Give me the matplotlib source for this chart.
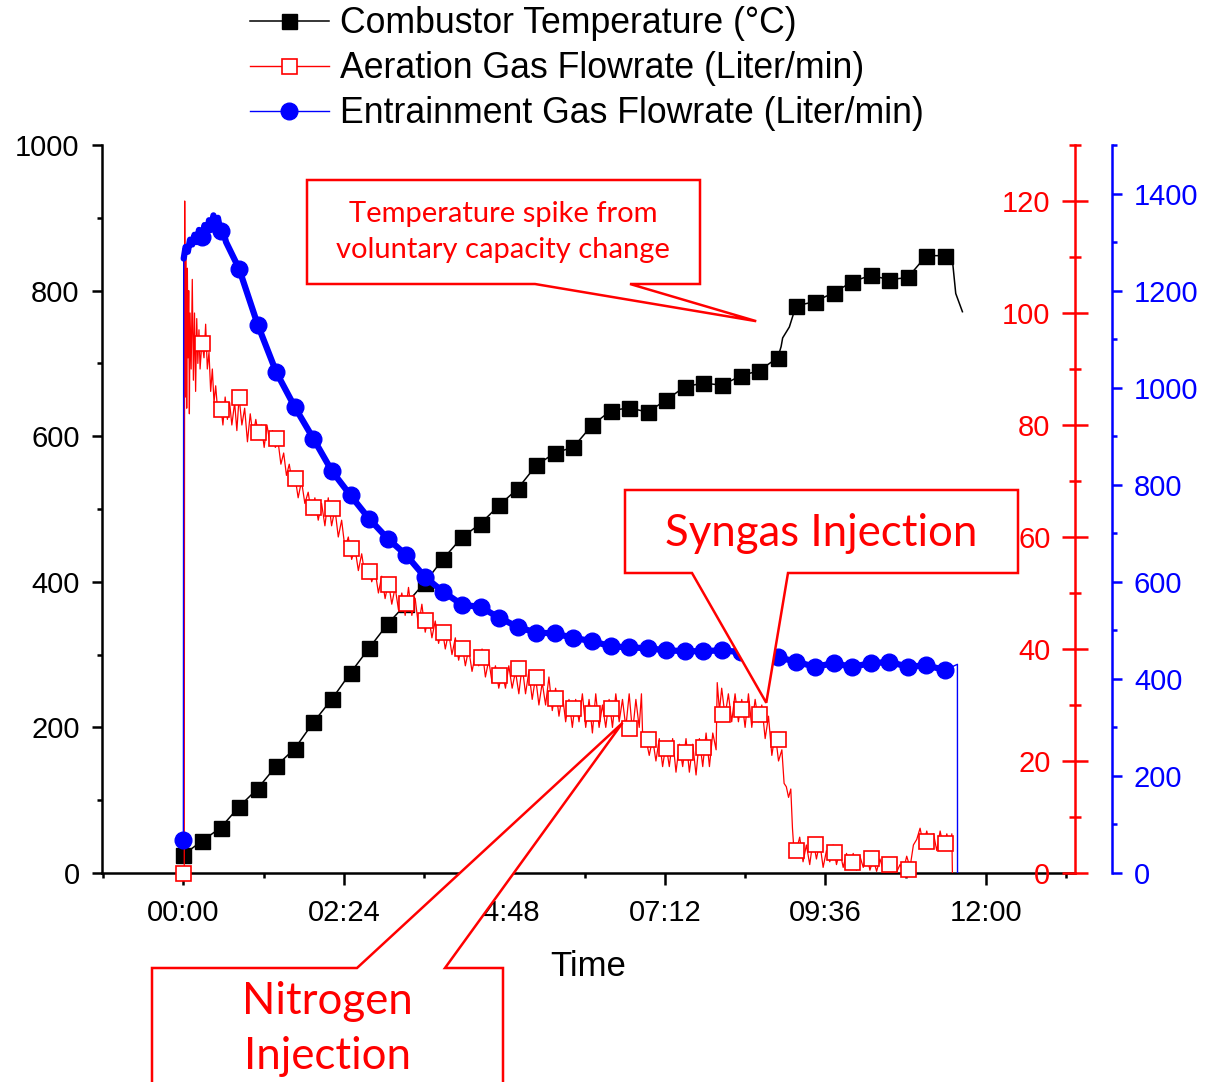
import numpy as np
import matplotlib
matplotlib.use("Agg")
import matplotlib.pyplot as plt
from matplotlib.lines import Line2D
from matplotlib.patches import Polygon
from matplotlib.ticker import MultipleLocator, FuncFormatter
from matplotlib.transforms import IdentityTransform

plt.rcParams['font.family'] = ['Liberation Sans', 'DejaVu Sans']

W, H = 1208, 1082

# markers are drawn once every 1000 s of logging (x axis in minutes)
mark_t = np.arange(42) * 1000 / 60

# combustor temperature (deg C) at the marker times
temp_v = [25, 44, 62, 91, 116, 147, 171, 207, 239, 275,
          309, 342, 370, 399, 432, 461, 480, 505, 528, 560,
          577, 585, 615, 635, 639, 633, 650, 668, 673, 670,
          683, 690, 708, 779, 785, 797, 812, 821, 815, 818,
          848, 848]
# extra temperature readings: the jump near 09:00 and the final cool-down
temp_extra_t = [536.3, 537.7, 543.7, 547.6, 690.0, 693.0, 699.0]
temp_extra_v = [723, 735, 750, 769, 842, 796, 771]

# aeration gas flowrate (L/min) at the marker times
aer_mark_v = [0, 94.6, 82.8, 85.0, 78.8, 77.7, 70.5, 65.4, 65.2, 58.0,
              54.0, 51.6, 48.2, 45.2, 43.0, 40.2, 38.6, 35.4, 36.6, 35.0,
              31.2, 29.5, 28.6, 29.5, 25.9, 23.9, 22.3, 21.6, 22.5, 28.4,
              29.3, 28.4, 23.9, 4.1, 5.2, 3.8, 2.0, 2.6, 1.6, 0.8,
              5.7, 5.3]
# aeration gas flowrate, raw logger trace
aer_t = [0, 0.8, 1.2, 1.8, 2.4, 3.0, 3.6, 4.2, 4.8, 5.4,
         6, 7, 8, 9, 10, 11, 12, 13, 14, 15,
         16.7, 18.5, 20, 21.5, 23, 24.5, 26, 27.5, 29, 31,
         33.3, 35.5, 37.5, 39.5, 41.5, 43.5, 46, 48, 50, 52.5,
         55, 57.5, 60, 62.5, 65, 67.5, 70, 72.5, 75, 77.5,
         80, 82.5, 85, 87.5, 90, 92.5, 95, 97.5, 100, 103,
         106, 109, 112, 115, 118, 121, 124, 127, 130, 133,
         136, 139, 142, 145, 148, 151, 154, 157, 160, 163,
         166, 169, 172, 175, 178, 181, 184, 187, 190, 193,
         196, 199, 202, 205, 208, 211, 214, 217, 220, 223,
         226, 229, 232, 235, 238, 241, 244, 247, 250, 253,
         256, 259, 262, 265, 268, 271, 274, 277, 280, 283,
         286, 289, 292, 295, 298, 301, 304, 307, 310, 313,
         316, 319, 322, 325, 328, 331, 334, 337, 340, 343,
         346, 349, 352, 355, 358, 361, 364, 367, 370, 373,
         376, 379, 382, 385, 388, 391, 394, 397, 400, 403,
         406, 409, 411, 412, 415, 418, 421, 424, 427, 430,
         433, 436, 439, 442, 445, 448, 451, 454, 457, 460,
         463, 466, 469, 472, 475, 478, 479, 481, 483, 486,
         489, 492, 495, 498, 501, 504, 507, 510, 513, 516,
         519, 522, 525, 528, 531, 534, 537, 539, 541, 543,
         545, 546.5, 547.5, 550, 553, 556, 559, 562, 565, 568,
         571, 574, 577, 580, 583, 586, 589, 592, 595, 598,
         601, 604, 607, 610, 613, 616, 619, 622, 625, 628,
         631, 634, 637, 640, 643, 646, 649, 652, 655, 658,
         661, 664, 667, 670, 673, 676, 679, 682, 685, 688,
         689.5, 690]
aer_v = [0, 0, 120, 85, 112, 83, 108, 92, 104, 82,
         100, 90, 106, 88, 100, 86, 99, 91, 97, 90,
         95, 92, 98, 90, 93, 86, 90, 84, 87, 82,
         84, 80, 85, 81, 84, 80, 84, 79, 85, 80,
         83, 77, 82, 78, 81, 78, 80, 76, 80, 77,
         79, 76, 77, 73, 75, 71, 73, 70, 71, 67,
         70, 66, 68, 64, 67, 63, 66, 62, 67, 62,
         65, 60, 63, 58, 60, 56, 58, 54, 57, 53,
         55, 52, 54, 50, 53, 49, 52, 48, 51, 47,
         50, 46, 51, 46, 49, 44, 48, 43, 46, 42,
         45, 41, 44, 40, 43, 39, 42, 38, 41, 37,
         40, 36, 39, 37, 40, 35, 38, 34, 37, 33,
         36, 33, 37, 33, 36, 32, 37, 32, 36, 31,
         35, 30, 34, 30, 35, 29, 33, 28, 32, 27,
         31, 26, 31, 27, 32, 26, 31, 25, 32, 26,
         30, 26, 31, 26, 32, 27, 31, 26, 32, 25,
         31, 26, 32, 25, 24, 21, 24, 20, 24, 19,
         23, 19, 24, 18, 23, 19, 24, 18, 23, 17.5,
         24, 19, 25, 19, 25, 22, 34, 29, 33, 28,
         32, 27, 32, 27, 31, 26, 32, 26, 31, 27,
         30, 24, 28, 21, 25, 20, 22, 16, 15.4, 13.5,
         15, 8, 5, 4, 6.4, 2, 5, 1.5, 6, 2.5,
         5.5, 1, 4, 2, 5, 1.5, 4, 1, 3.5, 0.8,
         3.5, 0.5, 3, 1, 3.5, 0.5, 2.5, 0.3, 2.5, 0.5,
         2, 0.3, 2, 0.2, 1.5, 0.5, 3, 1, 5, 6,
         8, 5, 7.5, 4.5, 7, 4, 7.5, 4.5, 7, 4,
         7, 0]

# entrainment gas flowrate (L/min) at the marker times
ent_mark_v = [68, 1310, 1322, 1245, 1130, 1032, 960, 895, 828, 778,
              730, 689, 655, 610, 579, 553, 548, 526, 507, 495,
              494, 484, 478, 467, 465, 463, 459, 457, 457, 459,
              455, 449, 445, 435, 425, 432, 425, 432, 435, 425,
              428, 418]
# entrainment readings between markers: noisy start-up plateau and shut-off
ent_extra_t = [0.3, 2, 4, 6, 8, 10, 12, 14, 19, 21,
               23, 25, 27, 29, 31, 36, 38.3, 694.5, 694.6]
ent_extra_v = [1266, 1290, 1280, 1305, 1295, 1315, 1300, 1325, 1335, 1315,
               1345, 1325, 1355, 1330, 1350, 1320, 1300, 430, 0]


def merged(t_a, v_a, t_b, v_b):
    t = np.concatenate([t_a, t_b])
    v = np.concatenate([v_a, v_b])
    order = np.argsort(t, kind='stable')
    return t[order], v[order]


temp_line_t, temp_line_v = merged(mark_t, temp_v, temp_extra_t, temp_extra_v)
ent_line_t, ent_line_v = merged(mark_t, ent_mark_v, ent_extra_t, ent_extra_v)

fig = plt.figure(figsize=(W / 100, H / 100), dpi=100)
ax = fig.add_axes([102 / W, 209 / H, 973 / W, 728 / H])
ax_aer = ax.twinx()
ax_ent = ax.twinx()
ax_ent.spines['right'].set_position(('outward', 26.6))

# temperature on the left axis
ax.plot(temp_line_t, temp_line_v, color='black', lw=1.1, zorder=2)
ax.plot(mark_t, temp_v, 's', ms=10.8, color='black', zorder=3, clip_on=False)

# aeration flow on the red axis
ax_aer.plot(aer_t, aer_v, color='red', lw=0.9, zorder=2)
ax_aer.plot(mark_t, aer_mark_v, 's', ms=10.8, mfc='white', mec='red',
            mew=1.2, zorder=3, clip_on=False)

# entrainment flow on the blue axis: thin trace plus the thick noisy band
ax_ent.plot(ent_line_t, ent_line_v, color='blue', lw=1, zorder=2)
ax_ent.plot(ent_line_t[1:-2], ent_line_v[1:-2], color='blue', lw=4.5,
            solid_capstyle='round', solid_joinstyle='round', zorder=2)
ax_ent.plot(mark_t, ent_mark_v, 'o', ms=12, color='blue', zorder=3,
            clip_on=False)

ax.set_xlim(-73, 800)
ax.set_ylim(0, 1000)
ax_aer.set_ylim(0, 130)
ax_ent.set_ylim(0, 1500)


def hhmm(m, pos):
    m = int(round(m))
    return f"{m // 60:02d}:{m % 60:02d}"


ax.xaxis.set_major_locator(MultipleLocator(144))
ax.xaxis.set_minor_locator(MultipleLocator(72))
ax.xaxis.set_major_formatter(FuncFormatter(hhmm))
ax.yaxis.set_major_locator(MultipleLocator(200))
ax.yaxis.set_minor_locator(MultipleLocator(100))
ax_aer.yaxis.set_major_locator(MultipleLocator(20))
ax_aer.yaxis.set_minor_locator(MultipleLocator(10))
ax_ent.yaxis.set_major_locator(MultipleLocator(200))
ax_ent.yaxis.set_minor_locator(MultipleLocator(100))

for a in (ax, ax_aer, ax_ent):
    a.spines['top'].set_visible(False)
ax.spines['right'].set_visible(False)
for a in (ax_aer, ax_ent):
    a.spines['left'].set_visible(False)
    a.spines['bottom'].set_visible(False)
for s in ('left', 'bottom'):
    ax.spines[s].set_linewidth(1.8)
ax_aer.spines['right'].set_linewidth(1.8)
ax_aer.spines['right'].set_color('red')
ax_ent.spines['right'].set_linewidth(1.8)
ax_ent.spines['right'].set_color('blue')

ax.tick_params(which='major', direction='out', length=7.5, width=1.8,
               labelsize=21)
ax.tick_params(which='minor', direction='out', length=3.6, width=1.8)
ax.tick_params(axis='x', which='major', length=8.6, pad=10)
ax.tick_params(axis='y', pad=8.6)

ax_aer.tick_params(axis='y', which='major', direction='inout', length=18.7,
                   width=1.8, colors='red', labelsize=21, pad=-27)
ax_aer.tick_params(axis='y', which='minor', direction='inout', length=8.6,
                   width=1.8, colors='red')
plt.setp(ax_aer.get_yticklabels(), ha='right')

ax_ent.tick_params(axis='y', which='major', direction='out', length=7.2,
                   width=1.8, colors='blue', labelsize=21, pad=8.6)
ax_ent.tick_params(axis='y', which='minor', direction='out', length=3.6,
                   width=1.8, colors='blue')

ax.set_xlabel('Time', fontsize=25, labelpad=17)

handles = [
    Line2D([], [], color='black', lw=1.1, marker='s', ms=10.8),
    Line2D([], [], color='red', lw=1, marker='s', ms=10.8, mfc='white',
           mec='red', mew=1.2),
    Line2D([], [], color='blue', lw=1, marker='o', ms=12),
]
labels = ['Combustor Temperature (°C)',
          'Aeration Gas Flowrate (Liter/min)',
          'Entrainment Gas Flowrate (Liter/min)']
fig.legend(handles, labels, loc='upper left',
           bbox_to_anchor=(250 / W, 1 - 6 / H), frameon=False,
           fontsize=25.7, handlelength=2.2, handletextpad=0.33,
           labelspacing=0.285, borderpad=0, borderaxespad=0)


# callout boxes with pointer wedges, drawn in output pixels
def callout(box, base, tip_disp, below=False):
    x0, y0, x1, y1 = box
    b0, b1 = base
    tx, ty = tip_disp
    if below:
        pts = [(x0, y0), (b0, y0), None, (b1, y0), (x1, y0), (x1, y1), (x0, y1)]
    else:
        pts = [(x0, y0), (x1, y0), (x1, y1), (b1, y1), None, (b0, y1), (x0, y1)]
    verts = []
    for p in pts:
        if p is None:
            verts.append((tx, ty))
        else:
            verts.append((p[0], H - p[1]))
    fig.add_artist(Polygon(verts, closed=True, facecolor='white',
                           edgecolor='red', lw=1.8, zorder=4,
                           transform=IdentityTransform()))


fig.canvas.draw()
tip_temp = ax.transData.transform((514, 758))
tip_syn = ax_aer.transData.transform((523, 30.4))
tip_n2 = ax_aer.transData.transform((394, 26.8))

callout((307, 180, 700, 284), (535, 630), tip_temp)
callout((625, 490, 1018, 573), (692, 788), tip_syn)
callout((152, 968, 503, 1110), (357, 445), tip_n2, below=True)

note_font = dict(color='red', family=['Lato', 'DejaVu Sans'], ha='center',
                 va='center', zorder=5)
fig.text(503 / W, 1 - 232 / H, 'Temperature spike from\nvoluntary capacity change',
         fontsize=21, linespacing=1.5, **note_font)
fig.text(821 / W, 1 - 533 / H, 'Syngas Injection', fontsize=31.5, **note_font)
fig.text(327 / W, 1 - 1029 / H, 'Nitrogen\nInjection', fontsize=31.5,
         linespacing=1.42, **note_font)

fig.savefig('out.png', dpi=100)
